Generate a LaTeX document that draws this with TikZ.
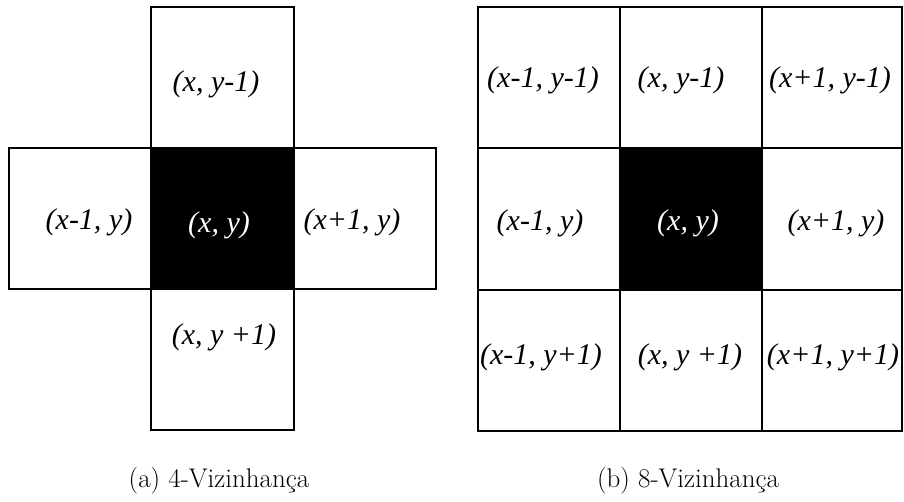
\documentclass[tikz,border=0pt]{standalone}
\usepackage{fontspec}
\newfontfamily\cellfont{Liberation Serif}
\begin{document}
\begin{tikzpicture}[x=1pt,y=-1pt,line width=1.4pt,
  lbl/.style={inner sep=0pt,font=\cellfont\itshape\fontsize{30}{34}\selectfont},
  captxt/.style={inner sep=0pt,font=\fontsize{27}{31}\selectfont}]
\useasboundingbox (0,0) rectangle (904,501);
% 4-vizinhanca
\fill[black] (151,148) rectangle (294,289);
\draw (151,7) rectangle (294,148);
\draw (9,148) rectangle (151,289);
\draw (294,148) rectangle (436,289);
\draw (151,289) rectangle (294,430);
\draw (151,148) rectangle (294,289);
\node[lbl] at (216,84) {(x, y-1)};
\node[lbl] at (89,222) {(x-1, y)};
\node[lbl,text=white] at (219,225) {(x, y)};
\node[lbl] at (352,222) {(x+1, y)};
\node[lbl] at (224,337) {(x, y +1)};
\node[captxt] at (219,481) {(a) 4-Vizinhança};
% 8-vizinhanca
\fill[black] (620,148) rectangle (762,290);
\draw (478,7) rectangle (902,431);
\foreach \xx in {620,762} \draw (\xx,7) -- (\xx,431);
\foreach \yy in {148,290} \draw (478,\yy) -- (902,\yy);
\node[lbl] at (543,80) {(x-1, y-1)};
\node[lbl] at (681,80) {(x, y-1)};
\node[lbl] at (830,80) {(x+1, y-1)};
\node[lbl] at (540,223) {(x-1, y)};
\node[lbl,text=white] at (688,223) {(x, y)};
\node[lbl] at (836,223) {(x+1, y)};
\node[lbl] at (541,357) {(x-1, y+1)};
\node[lbl] at (690,357) {(x, y +1)};
\node[lbl] at (833,357) {(x+1, y+1)};
\node[captxt] at (688,481) {(b) 8-Vizinhança};
\end{tikzpicture}
\end{document}
